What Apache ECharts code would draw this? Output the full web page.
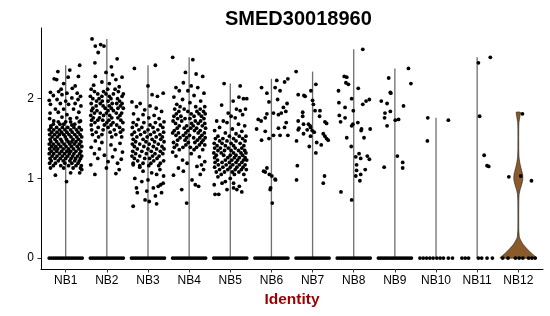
<!DOCTYPE html>
<html>
<head>
<meta charset="utf-8">
<script src="https://cdn.jsdelivr.net/npm/echarts@6/dist/echarts.min.js"></script>
<style>html,body{margin:0;padding:0;background:#fff}#c{width:550px;height:316px}</style>
</head>
<body>
<div id="c"></div>
<script>
// ---- data ----
var title = 'SMED30018960';
var xTitle = 'Identity';
var categories = ['NB1','NB2','NB3','NB4','NB5','NB6','NB7','NB8','NB9','NB10','NB11','NB12'];
var yTicks = [0, 1, 2];

// rows: [expression value, jitter offsets (category units)...]
var nb1 = [
 [2.42,.34],[2.36,.10],[2.34,-.19],[2.28,.31],[2.25,-.28],[2.24,-.22],[2.27,.06],[2.19,-.05],[2.16,.23],[2.13,.16],
 [2.12,-.11],[2.08,-.37],[2.09,-.17],[2.04,-.30],[2.05,-.09],[2.07,.03],[2.07,.28],[2.03,.36],[1.98,-.40],[1.99,-.21],
 [1.97,.00],[2.01,.15],[1.99,.30],[1.93,-.37],[1.94,-.13],[1.93,.07],[1.94,.23],[1.91,.37],[1.87,-.25],[1.87,-.05],
 [1.87,.19],[1.82,-.38],[1.83,-.18],[1.80,.03],[1.83,.32],[1.75,-.39],[1.77,-.09],[1.75,.11],[1.76,.27],[1.72,-.29],
 [1.71,.00],[1.72,.36],[1.66,-.36],[1.68,-.14],[1.67,.15],[1.68,-.30,-.05,.22],[1.71,-.18,.12,.33],
 [1.64,-.36,-.22,-.08,.05,.20,.33],
 [1.61,-.40,-.29,-.15,-.02,.12,.26,.38],
 [1.58,-.34,-.21,-.10,.03,.16,.30],
 [1.55,-.39,-.27,-.15,-.05,.08,.22,.35],
 [1.52,-.33,-.20,-.01,.13,.27,.39],
 [1.49,-.38,-.26,-.12,.02,.18,.31],
 [1.46,-.36,-.22,-.09,.06,.15,.25,.37],
 [1.43,-.40,-.30,-.17,-.04,.10,.21,.33],
 [1.40,-.34,-.24,-.12,.01,.14,.28,.39],
 [1.37,-.39,-.28,-.19,-.06,.07,.19,.32],
 [1.34,-.35,-.22,-.10,.03,.12,.25,.37],
 [1.31,-.40,-.29,-.15,-.03,.09,.20,.34],
 [1.28,-.33,-.21,-.08,.05,.17,.29,.39],
 [1.25,-.38,-.26,-.13,.00,.13,.24,.36],
 [1.22,-.35,-.18,-.06,.10,.22,.33],
 [1.19,-.39,-.25,-.02,.15,.30],
 [1.16,-.30,-.12,.07,.25,.38],
 [1.13,-.37,-.05,.18,.36],
 [1.11,.39],[1.07,.12],[1.07,.34],[1.04,-.25],[0.96,.02]
];
var nb2 = [
 [2.75,-.36],[2.66,-.28],[2.68,-.15],[2.66,-.07],[2.58,-.21],[2.50,.25],[2.45,-.29],[2.40,.11],[2.33,-.02],[2.28,-.28],
 [2.30,.14],[2.27,.37],[2.24,.22],[2.21,-.12],[2.17,-.32],[2.19,.06],[2.15,.30],
 [2.12,-.38,.02,.20],
 [2.09,-.30,-.08,.28],
 [2.06,-.22,-.02,.16,.40],
 [2.03,-.40,-.12,.06,.37],
 [2.00,-.34,-.19,.10,.26],
 [1.97,-.25,-.11,.03,.31],
 [1.94,-.38,-.16,.13,.24,.37],
 [1.91,-.26,-.09,.06,.33],
 [1.88,-.34,-.04,.11,.27,.40],
 [1.85,-.37,-.24,.03,.16],
 [1.82,-.30,-.16,-.01,.23,.36],
 [1.79,-.39,-.08,.07,.32],
 [1.76,-.33,-.18,.12,.27],
 [1.73,-.37,-.22,-.10,.05,.34],
 [1.70,-.29,.00,.15,.39],
 [1.67,-.38,-.06,.10,.24],
 [1.64,-.21,.03,.31],
 [1.61,-.37,-.09,.18,.39],
 [1.58,-.26,.08,.33],
 [1.55,-.35,-.12,.22],
 [1.52,-.20,.12,.36],
 [1.47,-.28],[1.45,-.12],[1.42,.10],[1.44,.32],[1.39,-.38],[1.37,-.18],[1.36,.20],[1.33,.38],[1.31,-.30],[1.29,-.06],
 [1.27,.14],[1.25,-.22],[1.24,.35],[1.21,.03],[1.19,.26],[1.17,-.39],[1.13,-.01],[1.11,.30],[1.06,.22],[1.05,-.29]
];
var nb3 = [
 [2.42,.18],[2.38,-.33],[2.16,.00],[2.07,.37],[2.05,.10],[2.03,.23],[1.96,-.39],[1.94,-.19],[1.90,-.28],[1.91,.05],
 [1.88,.20],[1.86,-.08],[1.84,.33],[1.81,-.35],[1.80,-.12],[1.79,.15],[1.76,.02],[1.75,.27],[1.74,-.24],[1.71,.39],
 [1.70,-.36,-.10,.18],
 [1.67,-.28,.05,.30],
 [1.64,-.38,-.15,.12,.36],
 [1.61,-.22,.00,.24],
 [1.58,-.33,-.08,.15,.38],
 [1.55,-.39,-.18,.06,.29],
 [1.52,-.27,-.02,.20,.35],
 [1.49,-.36,-.12,.10,.31],
 [1.46,-.30,-.05,.16,.39],
 [1.43,-.38,-.20,.03,.25],
 [1.40,-.33,-.10,.13,.34],
 [1.37,-.26,.00,.21,.39],
 [1.34,-.37,-.15,.08,.30],
 [1.31,-.30,-.04,.17,.36],
 [1.28,-.39,-.20,.11,.27],
 [1.25,-.33,-.08,.04,.22],
 [1.22,-.25,.14,.38],
 [1.19,-.36,-.12,.07,.30],
 [1.16,-.20,.02,.26],
 [1.17,-.36],[1.14,-.20],[1.11,.29],[1.07,.09],[1.05,.21],[1.03,.38],[1.00,-.32],[0.98,.00],[0.94,.37],[0.90,.25],
 [0.88,-.28],[0.88,.13],[0.84,-.03],[0.82,-.26],[0.82,.33],[0.78,.18],[0.73,-.07],[0.71,.03],[0.68,.21],[0.65,-.36],
 [1.09,-.12],[0.96,-.15],[0.92,.31]
];
var nb4 = [
 [2.52,-.40],[2.49,.09],[2.33,-.09],[2.31,.17],[2.28,.33],[2.20,-.14],[2.16,.05],[2.14,-.32],[2.14,.21],[2.10,-.24],
 [2.10,-.03],[2.07,.36],[2.04,.12],[2.02,-.37],[1.99,-.16],[1.97,.28],[1.95,.02],[1.93,-.30],
 [1.90,-.22,.16,.38],
 [1.87,-.35,-.12,.27],
 [1.84,-.25,-.03,.19,.35],
 [1.81,-.31,.05,.24,.39],
 [1.78,-.37,-.20,.12,.30],
 [1.75,-.28,-.10,.02,.36],
 [1.72,-.39,-.18,.15,.28],
 [1.69,-.33,.06,.22,.38],
 [1.66,-.24,-.06,.10,.32],
 [1.63,-.29,-.12,.04,.18,.40],
 [1.60,-.36,-.03,.13,.27],
 [1.57,-.40,-.26,-.08,.22,.37],
 [1.54,-.32,-.14,.01,.31],
 [1.51,-.22,-.06,.11,.26,.39],
 [1.48,-.28,-.10,.20,.34],
 [1.45,-.38,-.02,.14,.30],
 [1.42,-.30,-.08,.25,.38],
 [1.39,-.36,-.15,.03,.18],
 [1.36,-.24,.12,.33],
 [1.33,-.40],[1.31,.05],[1.28,-.32],[1.27,.25],[1.23,-.16],[1.21,.38],[1.19,-.05],[1.17,.30],[1.15,.19],[1.13,-.26],
 [1.11,.35],[1.09,-.14],[1.05,.27],[1.04,-.38],[0.98,.07],[0.92,.15],[0.90,.23],[0.86,-.18],[0.69,-.06]
];
var nb5 = [
 [2.19,-.15],[2.16,.24],[2.02,.21],[2.00,.32],[2.00,.40],[1.97,.07],[1.92,-.21],[1.87,.15],[1.87,.37],[1.85,.24],
 [1.82,-.05],[1.80,.30],[1.78,.02],[1.76,.12],[1.72,-.33],[1.72,-.17],[1.70,-.08],[1.68,.20],[1.66,.35],[1.64,-.26],
 [1.62,.05],[1.60,-.38],[1.59,.28],[1.57,-.12],[1.56,.14],
 [1.53,-.30,-.02,.22,.38],
 [1.50,-.36,-.18,.08,.30],
 [1.47,-.26,-.08,.14,.36],
 [1.44,-.39,-.20,.02,.24],
 [1.41,-.32,-.12,.08,.33],
 [1.38,-.38,-.24,-.05,.12,.28],
 [1.35,-.30,-.14,.02,.20,.35],
 [1.32,-.40,-.22,.08,.26,.38],
 [1.29,-.34,-.16,.00,.14,.30],
 [1.26,-.38,-.06,.10,.22,.36],
 [1.23,-.31,-.12,.04,.18,.32,.40],
 [1.20,-.37,-.20,-.02,.14,.28],
 [1.17,-.29,-.10,.06,.22,.36],
 [1.14,-.38,-.18,.00,.16,.31],
 [1.11,-.26,-.06,.12,.27,.39],
 [1.08,-.34,-.14,.05,.21],
 [1.05,-.22,.10,.33],
 [1.02,-.30],[1.00,.00],[0.98,.37],[0.96,-.12],[0.94,.08],[0.94,-.20],[0.92,-.39],[0.90,.22],[0.88,.08],[0.86,-.08],
 [0.86,.16],[0.83,.28],[0.80,-.28],[0.80,-.37]
];
var nb6 = [
 [2.25,.40],[2.23,.13],[2.21,.32],[2.14,-.24],[2.14,.09],[2.10,.21],[2.07,-.11],[1.99,.15],[1.96,-.06],[1.94,.38],
 [1.89,.29],[1.84,.35],[1.82,.05],[1.82,.24],[1.81,-.11],[1.80,.17],[1.76,-.15],[1.74,-.32],[1.72,-.25],[1.70,.36],
 [1.64,.32],[1.63,.17],[1.62,-.36],[1.59,-.15],[1.54,.40],[1.54,.21],[1.54,.05],[1.50,-.06],[1.48,-.24],[1.13,-.11],
 [1.09,-.19],[1.08,-.15],[1.05,-.05],[1.03,.01],[0.99,.09],[0.98,.10],[0.88,-.02],[0.86,-.03],[0.69,.02]
];
var nb7 = [
 [2.34,-.40],[2.18,.08],[2.10,-.04],[2.05,-.35],[2.04,-.21],[2.03,-.18],[1.98,.00],[1.93,.02],[1.85,.06],[1.85,.18],
 [1.83,-.24],[1.78,.17],[1.78,-.24],[1.72,-.35],[1.71,.30],[1.69,.34],[1.68,-.22],[1.68,-.10],[1.61,-.35],[1.63,-.33],
 [1.61,-.13],[1.64,-.05],[1.60,-.01],[1.58,.04],[1.56,-.22],[1.53,-.05],[1.56,.26],[1.53,.30],[1.50,.34],[1.48,.38],
 [1.45,.10],[1.42,.21],[1.40,-.08],[1.32,.08],[1.47,-.39],[1.16,-.37],[0.98,-.39],[1.03,.29],[0.94,.26],[1.66,-.06]
];
var nb8 = [
 [2.62,.22],[2.28,-.23],[2.27,-.17],[2.20,-.19],[2.18,-.13],[2.13,.11],[2.10,-.37],[2.00,-.05],[1.93,.22],[1.97,.30],
 [1.99,.38],[1.95,-.36],[1.89,-.21],[1.85,-.01],[1.79,-.35],[1.76,-.21],[1.71,-.32],[1.70,.10],[1.68,-.02],[1.66,-.05],
 [1.62,.19],[1.62,.40],[1.60,.18],[1.51,-.17],[1.51,.25],[1.40,-.06],[1.31,.13],[1.27,.05],[1.25,.17],[1.28,.33],
 [1.24,.38],[1.17,.07],[1.11,.28],[1.10,.07],[1.03,.05],[1.05,.17],[0.97,.15],[0.83,-.31],[0.73,-.05]
];
var nb9 = [
 [2.38,.33],[2.19,.39],[2.26,-.15],[1.97,-.33],[1.94,-.19],[2.08,-.11],[2.07,-.10],[1.91,.21],[1.82,-.24],[1.84,-.11],
 [1.76,-.25],[1.74,.09],[1.73,.01],[1.66,-.19],[1.28,.06],[1.14,-.26],[1.20,.19],[1.13,.19]
];
var nb10 = [[1.76,-.20],[1.73,.30],[1.47,-.21]];
var nb11 = [[2.45,.03],[2.52,.32],[1.78,.06],[1.29,.17],[1.16,.24],[1.15,.28]];
var nb12 = [[1.02,-.23],[1.03,.06],[0.97,.32],[1.81,.10]];
var pointRows = [nb1, nb2, nb3, nb4, nb5, nb6, nb7, nb8, nb9, nb10, nb11, nb12];

// cells with zero expression: jitter offsets per category
var zeroDense = [-.40,-.35,-.30,-.25,-.20,-.15,-.10,-.05,0,.05,.10,.15,.20,.25,.30,.35,.40];
var zeroNB10 = [-.39,-.31,-.23,-.15,-.07,.02,.10,.18,.30,.40];
var zeroNB11 = [-.37,-.29,-.21,.03,.11,.24,.37];
var zeroNB12 = [-.38,-.25,-.07,.02,.11,.25,.33,.41];
var zeroRows = [zeroDense,zeroDense,zeroDense,zeroDense,zeroDense,zeroDense,zeroDense,zeroDense,zeroDense,zeroNB10,zeroNB11,zeroNB12];

// NB12 violin density outline (value, half width in category units)
var nb12ViolinValue = [0, 0.02, 0.08, 0.17, 0.255, 0.35, 0.5, 0.7, 0.8, 0.86, 0.92, 0.97, 1.01, 1.06, 1.12, 1.2, 1.28, 1.4, 1.6, 1.7, 1.78, 1.83];
var nb12ViolinHalf  = [0.45, 0.41, 0.28, 0.12, 0.03, 0.012, 0.01, 0.012, 0.02, 0.045, 0.08, 0.105, 0.11, 0.10, 0.07, 0.035, 0.015, 0.01, 0.01, 0.015, 0.04, 0.05];

// ---- build ----
var points = [];
var maxByCat = [];
pointRows.forEach(function (rows, ci) {
  var mx = 0;
  rows.forEach(function (r) {
    for (var k = 1; k < r.length; k++) points.push([ci + 1 + r[k], r[0]]);
    if (r[0] > mx) mx = r[0];
  });
  zeroRows[ci].forEach(function (j) { points.push([ci + 1 + j, 0]); });
  maxByCat.push(mx);
});
var dataMax = Math.max.apply(null, maxByCat);
var pad = dataMax * 0.05;

var catIdx = categories.map(function (c, i) { return i + 1; });
var lineData = catIdx.slice(0, 11).map(function (x) { return [x, maxByCat[x - 1]]; });

var font = '"Liberation Sans", Arial, Helvetica, sans-serif';
var chart = echarts.init(document.getElementById('c'), null, {renderer: 'canvas'});
chart.setOption({
  animation: false,
  title: {
    text: title, left: 220, top: 4,
    textStyle: {fontFamily: font, fontSize: 20, fontWeight: 'bold', color: '#000'}
  },
  grid: {left: 41, right: 7, top: 28, bottom: 47, containLabel: false},
  xAxis: {
    type: 'value', min: 0.4, max: 12.6,
    name: xTitle, nameLocation: 'middle', nameGap: 19,
    nameTextStyle: {fontFamily: font, fontSize: 15.5, fontWeight: 'bold', color: '#9B0000'},
    splitLine: {show: false},
    axisLine: {show: true, onZero: false, lineStyle: {color: '#000', width: 1}},
    axisTick: {show: true, length: 3.5, customValues: catIdx, lineStyle: {color: '#333'}},
    axisLabel: {
      customValues: catIdx, margin: 6, fontFamily: font, fontSize: 12, color: '#000',
      formatter: function (v) { return categories[Math.round(v) - 1]; }
    }
  },
  yAxis: {
    type: 'value', min: -pad, max: dataMax + pad,
    splitLine: {show: false},
    axisLine: {show: true, onZero: false, lineStyle: {color: '#000', width: 1}},
    axisTick: {show: true, length: 3.5, customValues: yTicks, lineStyle: {color: '#333'}},
    axisLabel: {customValues: yTicks, margin: 7, fontFamily: font, fontSize: 12, color: '#000'}
  },
  series: [
    {
      type: 'custom', z: 1, silent: true,
      data: lineData,
      renderItem: function (params, api) {
        var a = api.coord([api.value(0), 0]);
        var b = api.coord([api.value(0), api.value(1)]);
        return {type: 'line', shape: {x1: a[0], y1: a[1], x2: b[0], y2: b[1]},
          style: {stroke: '#6e6e6e', lineWidth: 1.3}};
      }
    },
    {
      type: 'custom', z: 1, silent: true,
      data: [[12, 0]],
      renderItem: function (params, api) {
        var cx = api.value(0);
        var pts = [];
        for (var i = 0; i < nb12ViolinValue.length; i++) pts.push(api.coord([cx + nb12ViolinHalf[i], nb12ViolinValue[i]]));
        for (var i = nb12ViolinValue.length - 1; i >= 0; i--) pts.push(api.coord([cx - nb12ViolinHalf[i], nb12ViolinValue[i]]));
        return {type: 'polygon', shape: {points: pts, smooth: 0.2},
          style: {fill: '#8B5A2B', stroke: '#1a1a1a', lineWidth: 0.6}};
      }
    },
    {
      type: 'scatter', z: 3, silent: true,
      symbol: 'circle', symbolSize: 3.8,
      itemStyle: {color: '#000', opacity: 1},
      large: false,
      data: points
    }
  ]
});
</script>
</body>
</html>
